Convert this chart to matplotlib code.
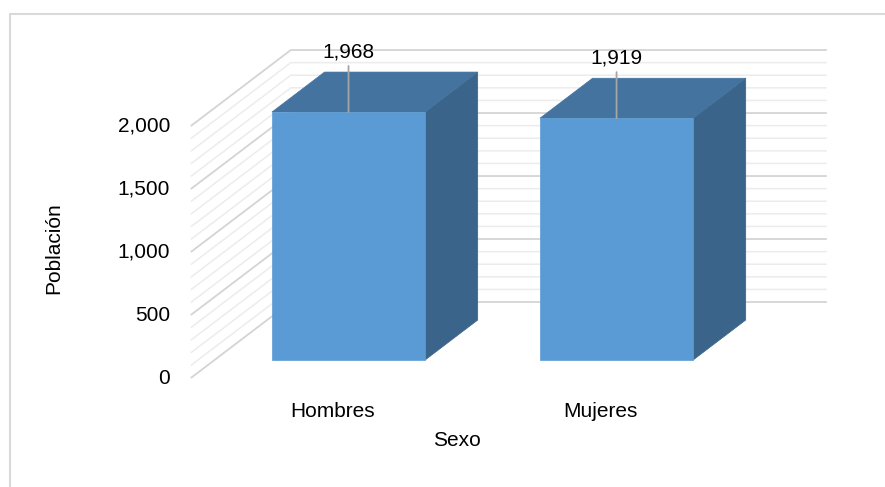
import matplotlib
matplotlib.use("Agg")
import matplotlib.pyplot as plt
from matplotlib.patches import Polygon
from matplotlib.lines import Line2D

categories = ["Hombres", "Mujeres"]
values = [1968, 1919]
value_labels = ["1,968", "1,919"]
ticks = [0, 500, 1000, 1500, 2000]
tick_labels = ["0", "500", "1,000", "1,500", "2,000"]
minor_ticks = list(range(0, 2001, 100))

plt.rcParams["font.family"] = ["Liberation Sans Narrow", "Liberation Sans", "DejaVu Sans"]
FS = 15

# oblique projection for the fake 3D look (depth 0 = floor front, 1 = back wall)
DX = 0.373
DY = 603.0
def proj(x, y, d):
    return (x + d * DX, y + d * DY)

fig = plt.figure(figsize=(8.85, 4.87), dpi=100)
ax = fig.add_axes([0, 0, 1, 1])
ax.set_xlim(-1.212, 2.090)
ax.set_ylim(-865, 3000)
ax.axis("off")

x_left, x_right = -0.5, len(categories) - 0.5

# walls: left side diagonals + back horizontals
for v in minor_ticks:
    major = v % 500 == 0
    col = "#d4d4d4" if major else "#ececec"
    lw = 1.3 if major else 1.1
    p0 = proj(x_left, v, 0)
    p1 = proj(x_left, v, 1)
    p2 = proj(x_right, v, 1)
    ax.plot([p0[0], p1[0], p2[0]], [p0[1], p1[1], p2[1]], color=col, lw=lw,
            solid_capstyle="butt", zorder=1)

# tick labels on the front edge of the side wall
for v, lab in zip(ticks, tick_labels):
    ax.annotate(lab, xy=proj(x_left, v, 0), xytext=(-15, 0), textcoords="offset points",
                ha="right", va="center", fontsize=FS, color="#000000")

# bars
width = 1 / 1.75
d_front, d_back = 0.237, 0.763
front_c, top_c, side_c = "#5B9BD5", "#44739F", "#3A6489"
for i, v in enumerate(values):
    xl, xr = i - width / 2, i + width / 2
    front = [proj(xl, 0, d_front), proj(xr, 0, d_front), proj(xr, v, d_front), proj(xl, v, d_front)]
    top = [proj(xl, v, d_front), proj(xr, v, d_front), proj(xr, v, d_back), proj(xl, v, d_back)]
    side = [proj(xr, 0, d_front), proj(xr, 0, d_back), proj(xr, v, d_back), proj(xr, v, d_front)]
    ax.add_patch(Polygon(side, closed=True, facecolor=side_c, edgecolor=side_c, lw=0.5, zorder=3))
    ax.add_patch(Polygon(top, closed=True, facecolor=top_c, edgecolor=top_c, lw=0.5, zorder=3))
    ax.add_patch(Polygon(front, closed=True, facecolor=front_c, edgecolor=front_c, lw=0.5, zorder=4))
    ax.annotate(value_labels[i], xy=proj(i, v, d_front), xytext=(0, 43), textcoords="offset points",
                ha="center", va="center", fontsize=FS, zorder=6,
                arrowprops=dict(arrowstyle="-", color="#a6a6a6", lw=1.3, shrinkA=1, shrinkB=0))

# category labels under the floor
for i, cat in enumerate(categories):
    ax.annotate(cat, xy=proj(i + 0.03, 0, 0), xytext=(0, -24), textcoords="offset points",
                ha="center", va="center", fontsize=FS)

W, H = 885, 487
fig.text(54 / W, 1 - 248 / H, "Población", rotation=90, ha="center", va="center", fontsize=FS)
fig.text(457 / W, 1 - 440 / H, "Sexo", ha="center", va="center", fontsize=FS)

# chart area border (only top and left edges visible in the crop)
fig.add_artist(Line2D([10 / W, 10 / W, 1], [0, 1 - 14 / H, 1 - 14 / H],
                      transform=fig.transFigure, color="#d9d9d9", lw=1.5))

fig.savefig("out.png", dpi=100)
